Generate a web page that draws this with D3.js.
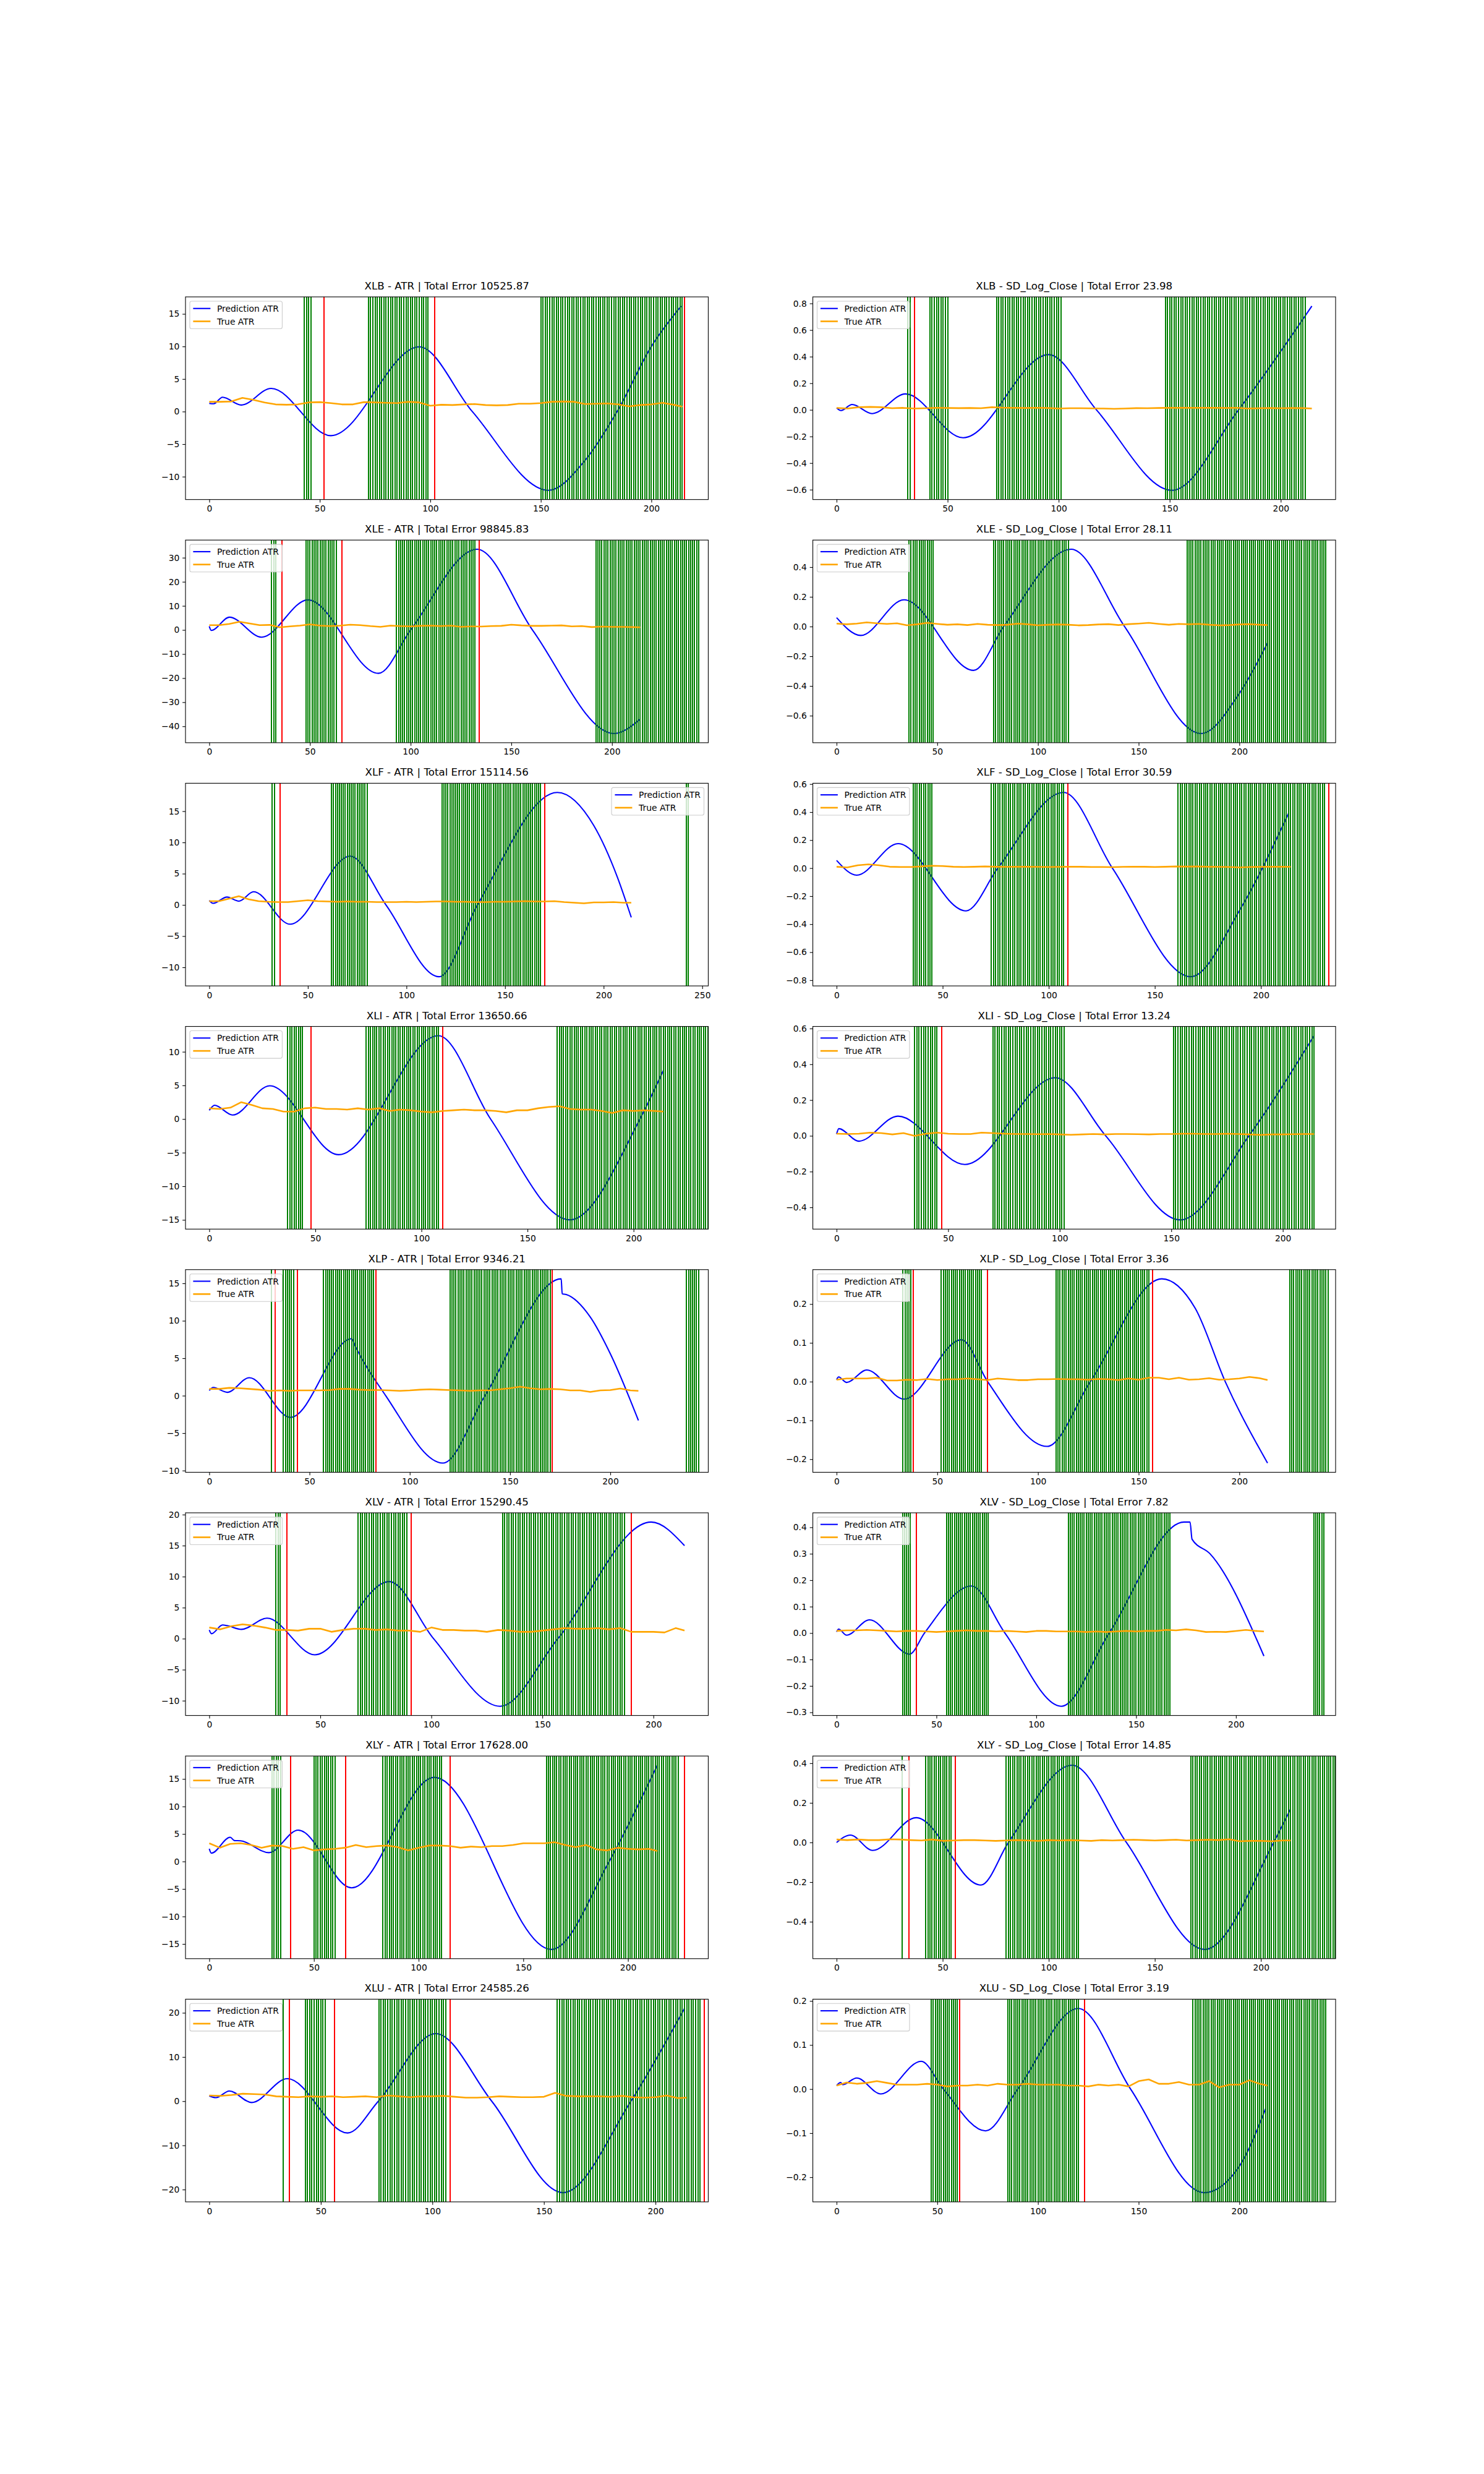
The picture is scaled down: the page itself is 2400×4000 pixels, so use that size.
<!DOCTYPE html>
<html><head><meta charset="utf-8">
<script src="https://cdn.jsdelivr.net/npm/d3@7"></script>
<style>body{margin:0;background:#fff}text{font-family:"DejaVu Sans",sans-serif}</style>
</head><body>
<script>
const titles = [
 "XLB - ATR | Total Error 10525.87","XLB - SD_Log_Close | Total Error 23.98",
 "XLE - ATR | Total Error 98845.83","XLE - SD_Log_Close | Total Error 28.11",
 "XLF - ATR | Total Error 15114.56","XLF - SD_Log_Close | Total Error 30.59",
 "XLI - ATR | Total Error 13650.66","XLI - SD_Log_Close | Total Error 13.24",
 "XLP - ATR | Total Error 9346.21","XLP - SD_Log_Close | Total Error 3.36",
 "XLV - ATR | Total Error 15290.45","XLV - SD_Log_Close | Total Error 7.82",
 "XLY - ATR | Total Error 17628.00","XLY - SD_Log_Close | Total Error 14.85",
 "XLU - ATR | Total Error 24585.26","XLU - SD_Log_Close | Total Error 3.19"];
const seriesNames = ["Prediction ATR","True ATR"];
const legendRight = [false,false,false,false,true,false,false,false,false,false,false,false,false,false,false,false];
const xMax = [215,214,236,236,241,224,224,213,237,236,214,238,227,224,213,236];
const xTicks = [0,50,100,150,200,250];
const yTicks = [
 [-10,-5,0,5,10,15],[-0.6,-0.4,-0.2,0,0.2,0.4,0.6,0.8],
 [-40,-30,-20,-10,0,10,20,30],[-0.6,-0.4,-0.2,0,0.2,0.4],
 [-10,-5,0,5,10,15],[-0.8,-0.6,-0.4,-0.2,0,0.2,0.4,0.6],
 [-15,-10,-5,0,5,10],[-0.4,-0.2,0,0.2,0.4,0.6],
 [-10,-5,0,5,10,15],[-0.2,-0.1,0,0.1,0.2],
 [-10,-5,0,5,10,15,20],[-0.3,-0.2,-0.1,0,0.1,0.2,0.3,0.4],
 [-15,-10,-5,0,5,10,15],[-0.4,-0.2,0,0.2,0.4],
 [-20,-10,0,10,20],[-0.2,-0.1,0,0.1,0.2]];
const yDecimals = [0,1,0,1,0,1,0,1,0,1,0,1,0,1,0,1];

// Prediction curves: [index, value] read at extrema / crossings
const predicted = [
 [[0,1.25],[2,1.2],[6,2.2],[14.5,1.0],[28,3.55],[55,-3.7],[95,9.95],[119,0],[153.5,-12.1],[170,-7.5],[185,0.3],[200,10],[213.5,16.2]],
 [[0,0.015],[2,-0.005],[7,0.04],[16,-0.028],[31,0.12],[57,-0.21],[95.5,0.415],[117,0],[151,-0.605],[181,0],[214,0.78]],
 [[0,1.5],[1,-0.2],[10,5.3],[26,-3],[49,12.5],[84,-18],[100,0],[133,33.5],[160.5,0],[201,-43],[214,-37]],
 [[0,0.06],[12,-0.06],[33.5,0.18],[68,-0.295],[83,0],[116.5,0.52],[143,0],[181,-0.72],[200,-0.45],[214,-0.11]],
 [[0,0.7],[2,0.25],[9,1.25],[15,0.6],[22.5,2.1],[41,-3.1],[71.5,7.8],[89.6,0],[116.5,-11.5],[136,0],[176.5,18],[195,12.7],[207,4.4],[214,-2]],
 [[0,0.055],[9.5,-0.05],[29,0.175],[61,-0.305],[76,0],[107,0.54],[130,0],[167,-0.775],[190,-0.3],[213,0.39]],
 [[0,1.3],[2.5,2.05],[11,0.6],[28.5,4.95],[61,-5.3],[108,12.4],[132.6,0],[170,-15],[203,0],[214,7.2]],
 [[0,0.01],[1,0.04],[10,-0.03],[27.5,0.11],[57.5,-0.16],[98,0.325],[120.6,0],[154,-0.47],[184.8,0],[214,0.56]],
 [[0,0.7],[2,1.1],[9,0.45],[20,2.4],[40.5,-2.9],[71,7.6],[73,6.5],[88,0],[116.5,-9],[137.5,0],[175.5,15.6],[176,13.6],[178,13.5],[190,10.5],[200,5.6],[214,-3.3]],
 [[0,0.005],[1,0.012],[5,-0.002],[15,0.03],[33.5,-0.045],[62,0.108],[75,0],[104.5,-0.167],[126,0],[161.5,0.265],[178,0.19],[193,0],[214,-0.21]],
 [[0,1.4],[1,0.8],[6,2.2],[8,2.1],[14.5,1.5],[26,3.3],[47.5,-2.6],[81,9.2],[101,0],[131,-10.9],[157,0],[199,18.8],[214,15]],
 [[0,0.005],[1,0.015],[5,-0.008],[16.5,0.05],[36.5,-0.08],[44,0],[67.5,0.178],[84.3,0],[112.5,-0.277],[136.5,0],[174,0.42],[177,0.42],[178,0.355],[187,0.3],[214,-0.087]],
 [[0,2.3],[1,1.5],[10,4.4],[12,3.8],[15,3.75],[28.5,1.6],[42.5,5.7],[68,-4.8],[107.5,15.3],[163.5,-16],[191,0],[214,17.5]],
 [[0,0.0],[6.5,0.0375],[17,-0.04],[37.5,0.125],[68,-0.215],[81,0],[111,0.39],[136.6,0],[173.5,-0.54],[206,0],[214,0.17]],
 [[0,1.2],[3,0.8],[9,2.3],[19,-0.3],[35,5.1],[62,-7.2],[75.8,0],[101.5,15.3],[126.6,0],[158.5,-20.7],[189,0],[213,21]],
 [[0,0.008],[2,0.015],[3,0.01],[10,0.025],[22,-0.011],[42,0.063],[53,0],[74,-0.095],[90,0],[120,0.183],[146,0],[182.5,-0.235],[200,-0.175],[213,-0.045]]
];

// True series sampled at these indices
const trueIdx = [0,5,10,15,20,25,30,35,40,45,50,55,60,65,70,75,80,85,90,95,100,105,110,115,120,125,130,135,140,145,150,155,160,165,170,175,180,185,190,195,200,205,210,214];
const actual = [
 [1.5,1.5,1.55,2.1,1.8,1.4,1.1,1.05,1.1,1.4,1.45,1.3,1.1,1.1,1.45,1.4,1.35,1.3,1.5,1.4,0.9,1.05,1.0,1.1,1.15,1.0,0.95,1.0,1.2,1.2,1.3,1.5,1.55,1.5,1.15,1.2,1.25,1.1,0.8,1.0,1.1,1.35,1.05,0.75],
 [0.015,0.01,0.02,0.022,0.02,0.012,0.015,0.01,0.012,0.015,0.014,0.013,0.014,0.012,0.02,0.016,0.015,0.014,0.016,0.014,0.01,0.012,0.012,0.011,0.01,0.008,0.01,0.013,0.012,0.014,0.015,0.015,0.016,0.015,0.016,0.014,0.016,0.01,0.012,0.014,0.012,0.014,0.013,0.01],
 [2.0,2.0,2.5,3.4,2.7,2.0,2.1,1.1,1.5,1.8,2.3,1.8,1.6,1.8,2.2,2.0,1.6,1.3,1.8,1.6,1.5,1.7,1.8,1.6,1.8,1.3,1.5,1.4,1.6,1.7,2.2,1.9,1.7,1.7,1.8,1.9,1.5,1.6,1.2,1.4,1.3,1.3,1.2,1.1],
 [0.02,0.015,0.02,0.028,0.022,0.018,0.022,0.008,0.015,0.025,0.018,0.012,0.015,0.01,0.018,0.012,0.01,0.012,0.02,0.015,0.008,0.012,0.014,0.012,0.008,0.01,0.014,0.016,0.01,0.016,0.02,0.025,0.018,0.012,0.018,0.015,0.018,0.012,0.008,0.01,0.014,0.016,0.012,0.01],
 [0.6,0.6,1.0,1.4,0.9,0.6,0.5,0.45,0.45,0.6,0.75,0.6,0.55,0.5,0.55,0.5,0.5,0.45,0.45,0.45,0.5,0.45,0.5,0.55,0.55,0.5,0.5,0.45,0.45,0.5,0.5,0.55,0.6,0.55,0.55,0.6,0.45,0.35,0.25,0.4,0.4,0.45,0.35,0.35],
 [0.01,0.005,0.02,0.027,0.02,0.01,0.008,0.008,0.012,0.017,0.015,0.01,0.008,0.01,0.012,0.01,0.009,0.01,0.01,0.009,0.008,0.009,0.01,0.01,0.008,0.008,0.007,0.009,0.01,0.01,0.008,0.01,0.012,0.011,0.012,0.01,0.009,0.008,0.005,0.008,0.009,0.01,0.01,0.009],
 [1.6,1.5,1.7,2.5,2.1,1.6,1.5,1.1,1.1,1.6,1.7,1.5,1.5,1.4,1.6,1.4,1.6,1.2,1.4,1.3,1.1,1.0,1.2,1.3,1.4,1.3,1.3,1.2,1.0,1.3,1.3,1.6,1.8,1.9,1.5,1.4,1.4,1.2,0.9,1.3,1.2,1.3,1.2,1.1],
 [0.012,0.01,0.012,0.018,0.015,0.008,0.015,0.0,0.012,0.018,0.012,0.01,0.01,0.018,0.015,0.012,0.01,0.01,0.009,0.01,0.008,0.006,0.008,0.01,0.008,0.01,0.01,0.009,0.008,0.01,0.01,0.012,0.012,0.01,0.01,0.012,0.01,0.008,0.005,0.008,0.008,0.009,0.01,0.01],
 [0.9,0.9,1.05,1.0,0.9,0.8,0.65,0.7,0.65,0.7,0.7,0.7,0.75,0.9,0.9,0.8,0.75,0.75,0.7,0.65,0.7,0.8,0.85,0.8,0.75,0.7,0.65,0.7,0.7,0.85,1.0,1.2,1.0,0.85,0.9,0.85,0.7,0.7,0.5,0.7,0.75,0.95,0.7,0.65],
 [0.005,0.008,0.008,0.008,0.01,0.003,0.003,0.005,0.004,0.007,0.004,0.006,0.006,0.008,0.006,0.004,0.008,0.006,0.004,0.004,0.006,0.006,0.007,0.006,0.006,0.005,0.007,0.006,0.004,0.008,0.005,0.01,0.01,0.006,0.01,0.005,0.006,0.009,0.005,0.006,0.008,0.012,0.009,0.004],
 [1.8,1.5,2.0,2.3,2.1,1.8,1.4,1.4,1.3,1.6,1.6,1.1,1.4,1.6,1.6,1.4,1.5,1.3,1.3,1.1,1.8,1.4,1.4,1.3,1.3,1.1,1.4,1.3,1.1,1.1,1.3,1.5,1.7,1.6,1.6,1.7,1.5,1.7,1.1,1.1,1.1,1.0,1.7,1.3],
 [0.008,0.01,0.01,0.012,0.01,0.008,0.006,0.008,0.008,0.006,0.004,0.006,0.008,0.01,0.008,0.008,0.006,0.008,0.006,0.004,0.008,0.008,0.006,0.006,0.006,0.004,0.006,0.004,0.006,0.008,0.006,0.008,0.008,0.012,0.01,0.014,0.01,0.004,0.005,0.004,0.008,0.012,0.008,0.006],
 [3.3,2.5,3.2,3.3,3.0,2.5,2.9,2.8,2.3,2.6,2.0,2.2,2.3,2.5,3.0,2.6,2.8,2.9,2.6,2.0,2.5,2.9,2.9,2.8,2.5,2.7,2.6,2.8,2.8,3.0,3.3,3.3,3.3,3.5,3.0,2.6,3.0,2.2,2.0,2.5,2.3,2.2,2.3,1.9],
 [0.015,0.012,0.015,0.012,0.012,0.016,0.015,0.012,0.01,0.015,0.008,0.01,0.012,0.012,0.01,0.008,0.01,0.012,0.01,0.008,0.012,0.01,0.012,0.01,0.008,0.012,0.01,0.012,0.014,0.012,0.01,0.012,0.014,0.01,0.012,0.014,0.012,0.016,0.006,0.008,0.008,0.006,0.01,0.01],
 [1.3,1.2,1.4,1.7,1.6,1.5,1.1,1.0,0.9,1.1,1.0,1.1,0.9,1.0,1.1,0.9,1.3,1.1,0.9,1.1,1.1,1.2,1.0,0.8,0.8,0.9,1.1,1.0,0.9,0.9,1.0,1.9,1.2,1.1,1.1,1.1,1.0,1.2,0.9,0.8,0.9,1.3,0.7,0.8],
 [0.008,0.015,0.012,0.014,0.018,0.014,0.01,0.01,0.01,0.012,0.01,0.006,0.008,0.008,0.01,0.008,0.012,0.01,0.01,0.012,0.01,0.01,0.01,0.008,0.008,0.006,0.01,0.008,0.01,0.006,0.018,0.022,0.012,0.012,0.016,0.01,0.01,0.018,0.004,0.01,0.01,0.02,0.012,0.008]
];

// Green marker runs (every index from start to end), red marker indices
const greenRuns = [
 [[43,46],[72,99],[150,214]],
 [[32,33],[42,50],[72,101],[148,211]],
 [[31,33],[48,63],[93,132],[192,243]],
 [[36,48],[78,115],[174,243]],
 [[32,33],[62,80],[118,168],[242,243]],
 [[36,45],[73,107],[161,230]],
 [[37,44],[74,108],[164,235]],
 [[35,45],[70,102],[151,214]],
 [[31,31],[37,42],[57,82],[120,170],[238,244]],
 [[33,37],[52,72],[109,155],[225,244]],
 [[30,32],[67,89],[132,187]],
 [[33,37],[55,76],[116,167],[239,244]],
 [[30,34],[50,60],[83,111],[161,224]],
 [[31,31],[42,54],[80,114],[167,235]],
 [[33,33],[43,52],[76,106],[156,220]],
 [[47,60],[85,120],[177,243]]
];
const redLines = [
 [52,102,215],[35],[36,66,134],[],[36,170],[109,232],[48,110],[47],
 [33,44,83,171],[38,75,157],[35,91,190],[40],[39,65,115,227],[34,56],[36,56,108,222],[61,123]
];

const W = 2400, H = 4000;
const axW = 845.45, axH = 327.66, gapH = 65.53;
const lefts = [300, 1314.55];
const FS = 13.89;

const svg = d3.select("body").append("svg").attr("width", W).attr("height", H);
svg.append("rect").attr("width", W).attr("height", H).attr("fill", "#fff");
const defs = svg.append("defs");
const minus = s => s.replace(/-/g, "\u2212");

titles.forEach((title, i) => {
  const r = Math.floor(i / 2), c = i % 2;
  const x0 = lefts[c], y0 = 480 + r * (axH + gapH);
  const M = xMax[i];
  const x = d3.scaleLinear().domain([-0.05 * M, 1.05 * M]).range([x0, x0 + axW]);
  const allY = predicted[i].map(d => d[1]).concat(actual[i]);
  const mn = d3.min(allY), mx = d3.max(allY), pad = 0.05 * (mx - mn);
  const y = d3.scaleLinear().domain([mn - pad, mx + pad]).range([y0 + axH, y0]);

  const g = svg.append("g");
  defs.append("clipPath").attr("id", "clip" + i)
    .append("rect").attr("x", x0).attr("y", y0).attr("width", axW).attr("height", axH);
  const plot = g.append("g").attr("clip-path", `url(#clip${i})`);

  plot.append("path").datum(predicted[i])
    .attr("d", d3.line().x(d => x(d[0])).y(d => y(d[1])).curve(d3.curveMonotoneX))
    .attr("fill", "none").attr("stroke", "#0000ff").attr("stroke-width", 2.08);

  const greens = [];
  greenRuns[i].forEach(([a, b]) => { for (let k = a; k <= b; k++) greens.push(k); });
  plot.selectAll(null).data(greens).join("line")
    .attr("x1", d => Math.round(x(d))).attr("x2", d => Math.round(x(d)))
    .attr("y1", y0).attr("y2", y0 + axH)
    .attr("stroke", "#008000").attr("stroke-width", 1.6).attr("shape-rendering", "crispEdges");

  plot.selectAll(null).data(redLines[i]).join("line")
    .attr("x1", d => Math.round(x(d))).attr("x2", d => Math.round(x(d)))
    .attr("y1", y0).attr("y2", y0 + axH)
    .attr("stroke", "#ff0000").attr("stroke-width", 2).attr("shape-rendering", "crispEdges");

  plot.append("path").datum(actual[i].map((v, k) => [trueIdx[k], v]))
    .attr("d", d3.line().x(d => x(d[0])).y(d => y(d[1])))
    .attr("fill", "none").attr("stroke", "#ffa500").attr("stroke-width", 2.6)
    .attr("stroke-linejoin", "round");

  const xa = g.append("g").attr("transform", `translate(0,${y0 + axH})`)
    .call(d3.axisBottom(x).tickValues(xTicks.filter(t => t <= x.domain()[1])).tickSize(4.86).tickPadding(4.86).tickFormat(d3.format("d")));
  const ya = g.append("g").attr("transform", `translate(${x0},0)`)
    .call(d3.axisLeft(y).tickValues(yTicks[i].filter(t => t >= y.domain()[0] && t <= y.domain()[1]))
      .tickSize(4.86).tickPadding(4.86)
      .tickFormat(d => minus(d3.format("." + yDecimals[i] + "f")(d))));
  [xa, ya].forEach(a => {
    a.select(".domain").remove();
    a.selectAll(".tick line").attr("stroke", "#000").attr("stroke-width", 1.1);
    a.selectAll(".tick text").attr("fill", "#000").style("font-size", FS + "px").style("font-family", "DejaVu Sans");
  });
  g.append("rect").attr("x", x0).attr("y", y0).attr("width", axW).attr("height", axH)
    .attr("fill", "none").attr("stroke", "#000").attr("stroke-width", 1.1);

  g.append("text").attr("x", x0 + axW / 2).attr("y", y0 - 12)
    .attr("text-anchor", "middle").style("font-size", "16.67px").text(title);

  const lg = g.append("g");
  const box = lg.append("rect").attr("rx", 3).attr("ry", 3)
    .attr("fill", "#fff").attr("fill-opacity", 0.8).attr("stroke", "#cccccc").attr("stroke-width", 1.1);
  const colors = ["#0000ff", "#ffa500"], widths = [2.08, 2.6];
  let tw = 0;
  seriesNames.forEach((nm, k) => {
    const cy = 11.8 + k * 20.8;
    lg.append("line").attr("x1", 5.4).attr("x2", 33.4).attr("y1", cy).attr("y2", cy)
      .attr("stroke", colors[k]).attr("stroke-width", widths[k]);
    const t = lg.append("text").attr("x", 44).attr("y", cy + 5).style("font-size", FS + "px").text(nm);
    tw = Math.max(tw, t.node().getComputedTextLength());
  });
  const bw = 44 + tw + 5.6, bh = 44.6;
  box.attr("width", bw).attr("height", bh);
  const lx = legendRight[i] ? x0 + axW - 6.95 - bw : x0 + 6.95;
  lg.attr("transform", `translate(${lx},${y0 + 6.95})`);
});
</script>
</body></html>
